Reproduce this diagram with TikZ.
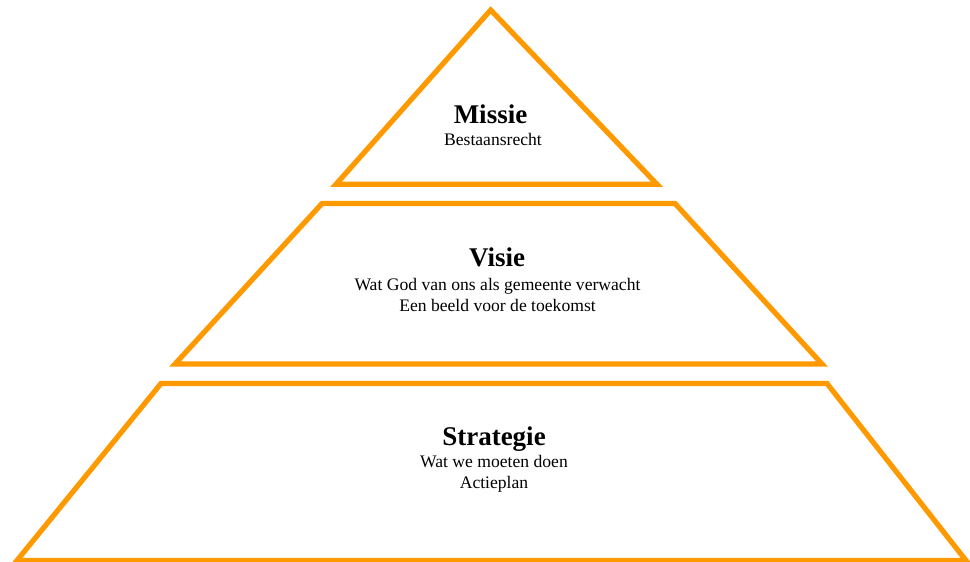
\documentclass[tikz,border=0pt]{standalone}
\usepackage{fontspec}
\setmainfont{Liberation Serif}
\definecolor{pyrorange}{RGB}{255,153,0}
\begin{document}
\begin{tikzpicture}[x=1pt,y=-1pt,
  tier/.style={draw=pyrorange,line width=5.2pt,line join=miter,fill=white},
  title/.style={anchor=base,inner sep=0pt,font=\fontsize{27}{30}\selectfont\bfseries},
  sub/.style={anchor=base,inner sep=0pt,font=\fontsize{17.6}{21.2}\selectfont}]
\useasboundingbox (0,0) rectangle (970,562);
% top triangle
\draw[tier] (490.7,10) -- (657,184.3) -- (336,184.3) -- cycle;
% middle trapezoid
\draw[tier] (322,203.5) -- (675,203.5) -- (822,364) -- (175,364) -- cycle;
% bottom trapezoid
\draw[tier] (161,383.5) -- (827,383.5) -- (966,560.5) -- (17,560.5) -- cycle;
% texts
\node[title] (missie) at (490.5,123.3) {Missie};
\node[sub] (missiesub) at (493,145) {Bestaansrecht};
\node[title] (visie) at (497,266.7) {Visie};
\node[sub] (visiesub1) at (497.5,290) {Wat God van ons als gemeente verwacht};
\node[sub] (visiesub2) at (497.5,311.5) {Een beeld voor de toekomst};
\node[title] (strategie) at (494,445) {Strategie};
\node[sub] (strategiesub1) at (494,467.7) {Wat we moeten doen};
\node[sub] (strategiesub2) at (494,488.5) {Actieplan};
\end{tikzpicture}
\end{document}
